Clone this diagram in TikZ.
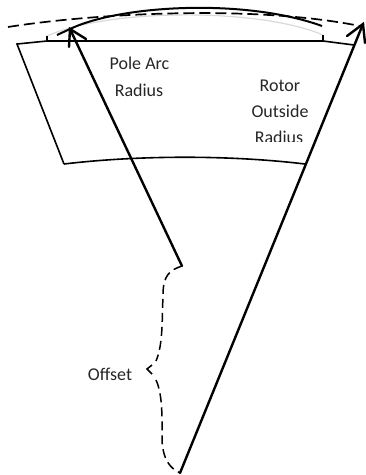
\documentclass[tikz,border=0pt]{standalone}
\usepackage{fontspec}
\setmainfont{Carlito}
\tikzset{
  thinline/.style={black,line width=1.6pt},
  arrowline/.style={black,line width=2.4pt,line cap=round},
  dashline/.style={black,line width=1.7pt,dash pattern=on 11pt off 5pt},
  bracedash/.style={black,line width=1.5pt,dash pattern=on 9pt off 5pt},
  lbl/.style={font=\fontsize{18}{20}\selectfont,text=black!85,inner sep=0pt,anchor=base}
}
\begin{document}
\begin{tikzpicture}[x=1pt,y=-1pt]
\useasboundingbox (0,0) rectangle (365,475);
\coordinate (tl) at (17,44);
\coordinate (bl) at (64,164);
\coordinate (br) at (305,164);
\coordinate (tr) at (354,45);
\coordinate (ta) at (47,41);
\coordinate (tb) at (323,41);
\coordinate (ta2) at (47,36);
\coordinate (tb2) at (323,35);
\coordinate (apexa) at (182,266);
\coordinate (apexb) at (180,473);
\coordinate (tipa) at (70,29);
\coordinate (tipb) at (363,24);
% faint pole arc
\draw[black!15,line width=1.2pt] (ta2) .. controls (110,8) and (260,8) .. (tb2);
% rotor outline
\draw[thinline,line join=miter] (bl) -- (tl) -- (ta) -- (tb) -- (tr);
\draw[thinline] (ta) -- (ta2);
\draw[thinline] (tb) -- (tb2);
\draw[thinline] (bl) .. controls (140,155) and (230,155) .. (br);
% solid arc
\draw[black,line width=2pt] (57,35) -- (tipa) .. controls (120,5) and (245,-2) .. (322,26);
% dashed arc
\draw[dashline] (8,27) .. controls (90,14) and (250,4) .. (360,26);
% radii
\draw[arrowline] (apexa) -- (tipa);
\draw[arrowline] (69,47) -- (tipa) -- (86,39);
\draw[arrowline] (apexb) -- (tipb);
\draw[arrowline] (347,36) -- (tipb) -- (365,43);
% brace
\draw[bracedash]
  (apexa) .. controls (170,270) and (163,275) .. (163,295)
  .. controls (162,320) and (163,345) .. (156,361);
\draw[black,line width=1.5pt] (152,365) -- (147,369) -- (152,374);
\draw[bracedash]
  (156,380) .. controls (163,395) and (162,420) .. (162,440)
  .. controls (163,460) and (170,468) .. (apexb);
% labels
\node[lbl] (pole) at (139.5,69.5) {Pole Arc};
\node[lbl] (poler) at (139,96) {Radius};
\node[lbl] (rotor) at (280,91) {Rotor};
\node[lbl] (outside) at (280,117) {Outside};
\begin{scope}
\clip (240,125) rectangle (320,141.5);
\node[lbl] (rotorr) at (279,143.5) {Radius};
\end{scope}
\node[lbl] (offset) at (110,380) {Offset};
\end{tikzpicture}
\end{document}
